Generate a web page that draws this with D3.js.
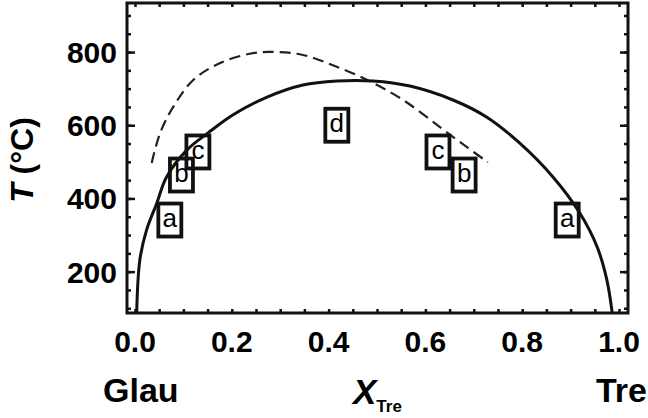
<!DOCTYPE html>
<html>
<head>
<meta charset="utf-8">
<script src="https://cdn.jsdelivr.net/npm/d3@7"></script>
<style>
  body { margin: 0; background: #fff; }
  text { font-family: "Liberation Sans", Arial, sans-serif; }
</style>
</head>
<body>
<svg id="chart" width="648" height="418"></svg>
<script>
// solvus (solid): X_Tre, T (°C)
var solvusX = [0.0035, 0.010, 0.024, 0.045, 0.065, 0.107, 0.151, 0.202, 0.273, 0.347, 0.417, 0.492, 0.568, 0.657, 0.727, 0.795, 0.864, 0.919, 0.955, 0.975, 0.986];
var solvusT = [87, 232, 314, 387, 458, 532, 579, 628, 677, 710, 721, 721, 707, 669, 622, 551, 458, 360, 267, 177, 87];
// dashed curve
var dashX = [0.0345, 0.052, 0.079, 0.120, 0.176, 0.244, 0.293, 0.347, 0.409, 0.481, 0.554, 0.630, 0.686, 0.729];
var dashT = [497, 579, 650, 723, 770, 797, 800, 792, 764, 723, 669, 595, 540, 499];
// boxed labels
var boxLabels = ["a", "b", "c", "d", "c", "b", "a"];
var boxX = [0.072, 0.096, 0.130, 0.417, 0.626, 0.680, 0.893];
var boxT = [341, 464, 527, 600, 527, 464, 341];

var xTicks = [0, 0.2, 0.4, 0.6, 0.8, 1.0];
var yTicks = [200, 400, 600, 800];

var margin = {top: 3, right: 20, bottom: 105, left: 127},
    width = 648 - margin.left - margin.right,
    height = 418 - margin.top - margin.bottom;

var svg = d3.select("#chart")
    .append("g")
    .attr("transform", "translate(" + margin.left + "," + margin.top + ")");

var x = d3.scaleLinear().domain([-0.0165, 1.0186]).range([0, width]);
var y = d3.scaleLinear().domain([87, 934]).range([height, 0]);

svg.append("clipPath").attr("id", "clip")
    .append("rect").attr("width", width).attr("height", height);

var line = d3.line()
    .x(function(d) { return x(d[0]); })
    .y(function(d) { return y(d[1]); })
    .curve(d3.curveCatmullRom.alpha(0.5));

var solvus = solvusX.map(function(v, i) { return [v, solvusT[i]]; });
var dashed = dashX.map(function(v, i) { return [v, dashT[i]]; });

var plot = svg.append("g").attr("clip-path", "url(#clip)");

plot.append("path")
    .datum(dashed)
    .attr("fill", "none")
    .attr("stroke", "#222")
    .attr("stroke-width", 2.2)
    .attr("stroke-dasharray", "11,6")
    .attr("d", line);

plot.append("path")
    .datum(solvus)
    .attr("fill", "none")
    .attr("stroke", "#111")
    .attr("stroke-width", 3)
    .attr("d", line);

// boxes
var boxes = svg.selectAll(".box")
    .data(boxLabels)
    .enter().append("g")
    .attr("class", "box")
    .attr("transform", function(d, i) {
        return "translate(" + x(boxX[i]) + "," + y(boxT[i]) + ")";
    });
boxes.append("rect")
    .attr("x", -11.5).attr("y", -16.5)
    .attr("width", 23).attr("height", 33)
    .attr("fill", "none")
    .attr("stroke", "#111")
    .attr("stroke-width", 3.8);
boxes.append("text")
    .attr("text-anchor", "middle")
    .attr("y", 7)
    .style("font-size", "26px")
    .text(function(d) { return d; });

// axes, ticks inward
var xMinor = d3.range(0, 1.0001, 0.05);
var yMinor = d3.range(100, 901, 50);

svg.append("g")
    .attr("transform", "translate(0," + height + ")")
    .call(d3.axisBottom(x).tickValues(xMinor).tickSize(-4).tickFormat(""));
svg.append("g")
    .call(d3.axisTop(x).tickValues(xMinor).tickSize(-4).tickFormat(""));
svg.append("g")
    .call(d3.axisLeft(y).tickValues(yMinor).tickSize(-4).tickFormat(""));
svg.append("g")
    .attr("transform", "translate(" + width + ",0)")
    .call(d3.axisRight(y).tickValues(yMinor).tickSize(-4).tickFormat(""));
svg.append("g")
    .call(d3.axisLeft(y).tickValues(yTicks).tickSize(-8).tickFormat(""));
svg.append("g")
    .attr("transform", "translate(" + width + ",0)")
    .call(d3.axisRight(y).tickValues(yTicks).tickSize(-8).tickFormat(""));
svg.selectAll(".domain").remove();
svg.selectAll(".tick line").attr("stroke", "#111").attr("stroke-width", 2.5);

svg.append("rect")
    .attr("width", width).attr("height", height)
    .attr("fill", "none")
    .attr("stroke", "#111")
    .attr("stroke-width", 3);

// tick labels
svg.selectAll(".xlab")
    .data(xTicks)
    .enter().append("text")
    .attr("x", function(d) { return x(d); })
    .attr("y", height + 39)
    .attr("text-anchor", "middle")
    .style("font-size", "30px")
    .style("font-weight", "bold")
    .text(function(d) { return d.toFixed(1); });

svg.selectAll(".ylab")
    .data(yTicks)
    .enter().append("text")
    .attr("x", -10)
    .attr("y", function(d) { return y(d) + 11; })
    .attr("text-anchor", "end")
    .style("font-size", "30px")
    .style("font-weight", "bold")
    .text(function(d) { return d; });

// axis titles
var root = d3.select("#chart");
var yTitle = root.append("text")
    .attr("transform", "translate(33,160) rotate(-90)")
    .attr("text-anchor", "middle")
    .style("font-size", "32px")
    .style("font-weight", "bold");
yTitle.append("tspan").style("font-style", "italic").text("T");
yTitle.append("tspan").text(" (°C)");

root.append("text")
    .attr("x", 103).attr("y", 402)
    .style("font-size", "34px")
    .style("font-weight", "bold")
    .text("Glau");
root.append("text")
    .attr("x", 647).attr("y", 402)
    .attr("text-anchor", "end")
    .style("font-size", "34px")
    .style("font-weight", "bold")
    .text("Tre");
var xTitle = root.append("text")
    .attr("x", 353).attr("y", 404)
    .style("font-weight", "bold");
xTitle.append("tspan").style("font-style", "italic").style("font-size", "35px").text("X");
xTitle.append("tspan").attr("dy", 8).style("font-size", "17px").text("Tre");
</script>
</body>
</html>
